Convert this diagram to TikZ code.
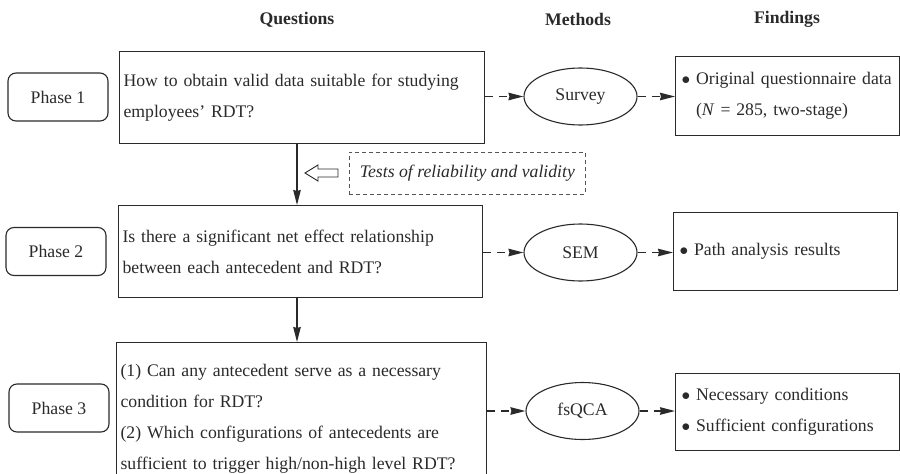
\documentclass[tikz,border=0pt]{standalone}
\usepackage{fontspec}
\setmainfont{Liberation Serif}
\usetikzlibrary{arrows.meta,shapes.geometric}
\definecolor{ink}{HTML}{2A2A2A}
\newcommand{\blt}{\raisebox{0.5pt}{$\bullet$}}
\begin{document}
\begin{tikzpicture}[x=1pt,y=-1pt,
  txt/.style={font=\fontsize{17.7}{31}\selectfont, text=ink},
  hdr/.style={font=\fontsize{17.7}{22}\selectfont\bfseries, text=ink},
  frame/.style={draw=ink, line width=1.1pt},
  phasebox/.style={frame, rounded corners=8pt, minimum width=100pt, minimum height=48pt, inner sep=0pt, txt},
  qbox/.style={frame, anchor=north west, txt, align=left, inner xsep=4pt, inner ysep=0pt},
  fbox/.style={frame, anchor=north west, txt, align=left, inner xsep=6pt, inner ysep=0pt, text width=212pt, minimum width=224pt},
  method/.style={frame, ellipse, minimum width=113pt, minimum height=57pt, inner sep=0pt, txt},
  dasharrow/.style={draw=ink, line width=1.4pt, dash pattern=on 8pt off 6pt, -{Stealth[length=15pt,width=7.5pt,inset=1pt]}},
  solidarrow/.style={draw=ink, line width=1.4pt, -{Stealth[length=15pt,width=7.5pt,inset=1pt]}},
  notebox/.style={draw=ink!80, line width=0.8pt, dash pattern=on 4pt off 3pt, minimum width=236pt, minimum height=42pt, inner sep=0pt, anchor=north west, font=\fontsize{17.7}{22}\selectfont\itshape, text=ink}
]
\useasboundingbox (0,0) rectangle (900,474);

% headers
\node[hdr] (hq) at (297,19.5) {Questions};
\node[hdr] (hm) at (578,19.5) {Methods};
\node[hdr] (hf) at (787,19.5) {Findings};

% phases
\node[phasebox] (p1) at (58,97) {Phase 1};
\node[phasebox] (p2) at (56,251.5) {Phase 2};
\node[phasebox] (p3) at (59,408) {Phase 3};

% questions
\node[qbox, text width=357pt, minimum height=92pt] (q1) at (119,51)
  {How to obtain valid data suitable for studying\\employees' RDT?};
\node[qbox, text width=356pt, minimum height=92pt] (q2) at (118,205)
  {Is there a significant net effect relationship\\between each antecedent and RDT?};
\node[qbox, text width=362pt, minimum height=152pt] (q3) at (116,342)
  {(1) Can any antecedent serve as a necessary\\condition for RDT?\\(2) Which configurations of antecedents are\\sufficient to trigger high/non-high level RDT?};

% methods
\node[method] (m1) at (580.5,96.5) {Survey};
\node[method] (m2) at (580.5,252.5) {SEM};
\node[method] (m3) at (582.5,411) {fsQCA};

% findings
\node[fbox, minimum height=79pt] (f1) at (675,56)
  {\blt\ Original questionnaire data\\\phantom{\blt}\ (\textit{N} = 285, two-stage)};
\node[fbox, minimum height=78pt] (f2) at (673,212)
  {\blt\ Path analysis results};
\node[fbox, minimum height=77pt] (f3) at (675,373)
  {\blt\ Necessary conditions\\\blt\ Sufficient configurations};

% note box
\node[notebox] (note) at (349,152) {Tests of reliability and validity};

% hollow arrow pointing left to the vertical connector
\draw[draw=ink, line width=0.9pt, fill=white]
  (305,173) -- (318,165) -- (318,169) -- (338,169) -- (338,177) -- (318,177) -- (318,181) -- cycle;

% vertical connectors
\coordinate (vx) at (297,0);
\draw[solidarrow] (vx |- q1.south) -- (vx |- q2.north);
\draw[solidarrow] (vx |- q2.south) -- (vx |- q3.north);

% dashed connectors
\draw[dasharrow] (m1.west -| q1.east) -- (m1.west);
\draw[dasharrow] (m1.east) -- (m1.east -| f1.west);
\draw[dasharrow] (m2.west -| q2.east) -- (m2.west);
\draw[dasharrow] (m2.east) -- (m2.east -| f2.west);
\draw[dasharrow] (m3.west -| q3.east) -- (m3.west);
\draw[dasharrow] (m3.east) -- (m3.east -| f3.west);
\end{tikzpicture}
\end{document}
